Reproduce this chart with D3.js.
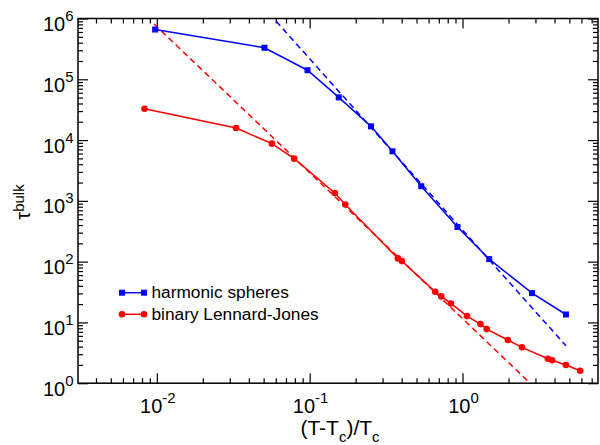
<!DOCTYPE html>
<html><head><meta charset="utf-8">
<script src="https://cdn.jsdelivr.net/npm/d3@7"></script>
<style>body{margin:0;background:#fff}svg{display:block}text{font-family:"Liberation Sans",Arial,sans-serif}</style>
</head><body><svg id="c" width="600" height="445"></svg>
<script>
// Data
const hsEps = [0.00975, 0.0506, 0.0968, 0.155, 0.252, 0.348, 0.537, 0.927, 1.495, 2.85, 4.75];
const hsTau = [6.59e5, 3.30e5, 1.41e5, 5.04e4, 1.68e4, 6.53e3, 1.74e3, 372, 110, 30.3, 13.5];
const ljEps = [0.0083, 0.0330, 0.0566, 0.0792, 0.146, 0.171, 0.378, 0.401, 0.663, 0.726, 0.840, 1.07, 1.31, 1.44, 1.98, 2.45, 3.62, 3.86, 4.75, 5.89];
const ljTau = [3.28e4, 1.58e4, 8.73e3, 4.95e3, 1.35e3, 869, 113, 102, 31.9, 26.8, 20.5, 12.7, 9.39, 7.77, 5.13, 3.89, 2.53, 2.38, 1.99, 1.60];
const hsFitEps = [0.0604, 4.75];
const hsFitTau = [9.0e5, 4.13];
const ljFitEps = [0.0096, 2.77];
const ljFitTau = [8.1e5, 1.0];
const xMajor = [0.01, 0.1, 1];
const xMajorExp = ["-2", "-1", "0"];
const yMajor = [1, 10, 100, 1e3, 1e4, 1e5, 1e6];
const yMajorExp = ["0", "1", "2", "3", "4", "5", "6"];
const legendLabels = ["harmonic spheres", "binary Lennard-Jones"];

const L = 78, R = 598, T = 18.5, B = 383.2;
const svg = d3.select("#c");
const x = d3.scaleLog().domain([0.00305, 7.7]).range([L, R]);
const y = d3.scaleLog().domain([1, 1e6]).range([B, T]);

const xMinor = [];
for (let e = -3; e <= 0; e++) for (let m = 2; m <= 9; m++) { const v = m * Math.pow(10, e); if (v >= x.domain()[0] && v <= x.domain()[1]) xMinor.push(v); }
const yMinor = [];
for (let e = 0; e < 6; e++) for (let m = 2; m <= 9; m++) yMinor.push(m * Math.pow(10, e));

function axisG(axis, tx, ty) {
  const g = svg.append("g").attr("transform", `translate(${tx},${ty})`).call(axis);
  g.select(".domain").remove();
  g.selectAll("line").attr("stroke", "#000").attr("stroke-width", 1.2);
  g.selectAll("text").remove();
}
[[d3.axisBottom, 0, B, x, xMajor, xMinor], [d3.axisTop, 0, T, x, xMajor, xMinor],
 [d3.axisLeft, L, 0, y, yMajor, yMinor], [d3.axisRight, R, 0, y, yMajor, yMinor]].forEach(([fn, tx, ty, sc, maj, min]) => {
  axisG(fn(sc).tickValues(maj).tickSize(-10).tickSizeOuter(0).tickFormat(""), tx, ty);
  axisG(fn(sc).tickValues(min).tickSize(-5).tickSizeOuter(0).tickFormat(""), tx, ty);
});

svg.append("rect").attr("x", L).attr("y", T).attr("width", R - L).attr("height", B - T)
  .attr("fill", "none").attr("stroke", "#000").attr("stroke-width", 1.5);

// tick labels
xMajor.forEach((v, i) => {
  const t = svg.append("text").attr("x", x(v) + 1).attr("y", B + 30).attr("text-anchor", "middle").attr("font-size", 20);
  t.append("tspan").text("10");
  t.append("tspan").attr("dy", -10).attr("font-size", 15).text(xMajorExp[i]);
});
yMajor.forEach((v, i) => {
  const t = svg.append("text").attr("x", 73.5).attr("y", y(v) + 12.5).attr("text-anchor", "end").attr("font-size", 20);
  t.append("tspan").text("10");
  t.append("tspan").attr("dy", -10).attr("font-size", 15).text(yMajorExp[i]);
});

// axis titles
const xt = svg.append("text").attr("x", 340).attr("y", 435).attr("text-anchor", "middle").attr("font-size", 21);
xt.append("tspan").text("(T-T");
xt.append("tspan").attr("dy", 7).attr("font-size", 15).text("c");
xt.append("tspan").attr("dy", -7).text(")/T");
xt.append("tspan").attr("dy", 7).attr("font-size", 15).text("c");
const yt = svg.append("text").attr("transform", "translate(29.5,202) rotate(-90)").attr("text-anchor", "middle").attr("font-size", 20);
yt.append("tspan").text("τ");
yt.append("tspan").attr("dy", -6).attr("font-size", 15).text("bulk");

// clip
svg.append("clipPath").attr("id", "clip").append("rect").attr("x", L).attr("y", T).attr("width", R - L).attr("height", B - T);
const plot = svg.append("g").attr("clip-path", "url(#clip)");
const line = d3.line().x(d => x(d[0])).y(d => y(d[1]));
const blue = "#0000ff", red = "#ff0000";

plot.append("path").datum(d3.zip(hsFitEps, hsFitTau)).attr("d", line).attr("fill", "none").attr("stroke", blue).attr("stroke-width", 1.5).attr("stroke-dasharray", "6,4");
plot.append("path").datum(d3.zip(ljFitEps, ljFitTau)).attr("d", line).attr("fill", "none").attr("stroke", red).attr("stroke-width", 1.5).attr("stroke-dasharray", "6,4");

const hs = d3.zip(hsEps, hsTau), lj = d3.zip(ljEps, ljTau);
plot.append("path").datum(hs).attr("d", line).attr("fill", "none").attr("stroke", blue).attr("stroke-width", 1.5);
plot.append("path").datum(lj).attr("d", line).attr("fill", "none").attr("stroke", red).attr("stroke-width", 1.5);
const ms = 6;
svg.append("g").selectAll("rect").data(hs).join("rect")
  .attr("x", d => x(d[0]) - ms / 2).attr("y", d => y(d[1]) - ms / 2).attr("width", ms).attr("height", ms).attr("fill", blue);
svg.append("g").selectAll("circle").data(lj).join("circle")
  .attr("cx", d => x(d[0])).attr("cy", d => y(d[1])).attr("r", 3.3).attr("fill", red);

// legend
const lg = svg.append("g");
[[blue, 292.7, "sq"], [red, 314.3, "ci"]].forEach(([c, ly, m], i) => {
  lg.append("line").attr("x1", 122).attr("x2", 144).attr("y1", ly).attr("y2", ly).attr("stroke", c).attr("stroke-width", 1.5);
  [122, 144].forEach(cx => {
    if (m === "sq") lg.append("rect").attr("x", cx - 3).attr("y", ly - 3).attr("width", 6).attr("height", 6).attr("fill", c);
    else lg.append("circle").attr("cx", cx).attr("cy", ly).attr("r", 3.3).attr("fill", c);
  });
  lg.append("text").attr("x", 151.5).attr("y", ly + 5.5).attr("font-size", 17.3).text(legendLabels[i]);
});
</script></body></html>
